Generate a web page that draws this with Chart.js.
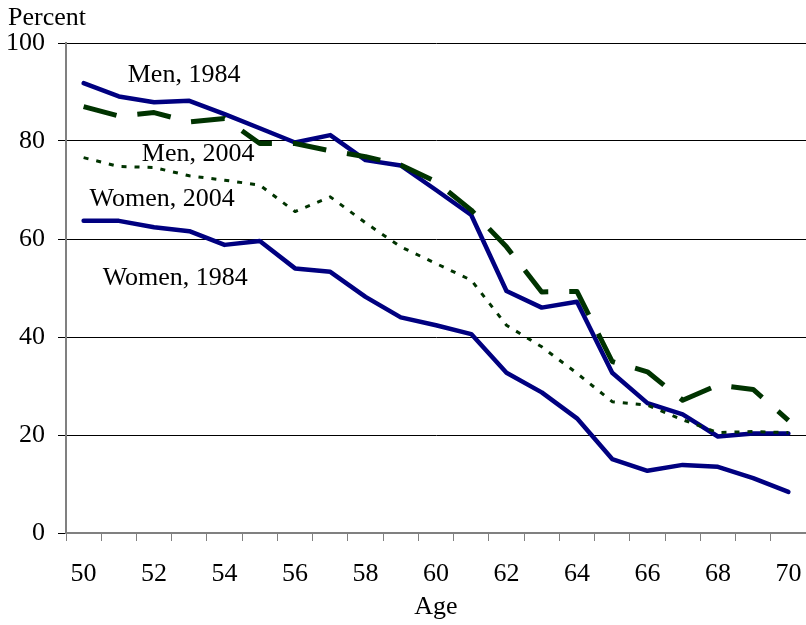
<!DOCTYPE html>
<html>
<head>
<meta charset="utf-8">
<script src="https://cdn.jsdelivr.net/npm/chart.js@4/dist/chart.umd.min.js"></script>
<style>
  html, body { margin: 0; padding: 0; background: #ffffff; }
  #wrap { width: 806px; height: 625px; position: relative; }
</style>
</head>
<body>
<div id="wrap"><canvas id="c" width="806" height="625"></canvas></div>
<script>
// ---- Data ----
const ages = ['50','51','52','53','54','55','56','57','58','59','60','61','62','63','64','65','66','67','68','69','70'];
const men1984   = [91.8, 89.1, 87.9, 88.2, 85.5, 82.6, 79.7, 81.2, 76.1, 75.0, 70.0, 64.9, 49.4, 46.0, 47.2, 32.7, 26.5, 24.2, 19.7, 20.3, 20.3];
const women1984 = [63.7, 63.7, 62.4, 61.6, 58.8, 59.6, 54.0, 53.3, 48.2, 44.0, 42.4, 40.6, 32.7, 28.7, 23.4, 15.1, 12.7, 13.9, 13.5, 11.2, 8.4];
const men2004   = [87.0, 85.1, 85.8, 83.9, 84.6, 79.5, 79.5, 78.0, 76.8, 75.1, 71.7, 65.9, 58.4, 49.2, 49.3, 35.0, 32.9, 27.1, 30.2, 29.3, 23.0];
const women2004 = [76.6, 74.8, 74.6, 72.9, 72.0, 71.0, 65.6, 68.6, 63.3, 58.4, 55.0, 51.6, 42.4, 38.0, 32.6, 26.8, 26.1, 23.1, 20.5, 20.7, 20.5];
const yTicks = [0, 20, 40, 60, 80, 100];
const seriesLabels = ['Men, 1984', 'Men, 2004', 'Women, 2004', 'Women, 1984'];
// label anchor points in data coordinates (category index, value)
const labelAnchors = [[2.85, 93.5], [3.25, 77.3], [2.23, 68.2], [2.6, 52.0]];

const FONT = "'Liberation Serif', 'Times New Roman', serif";
const NAVY = '#000080';
const GREEN = '#003300';

const textPlugin = {
  id: 'texts',
  afterDatasetsDraw(chart) {
    const ctx = chart.ctx;
    const xs = chart.scales.x, ys = chart.scales.y;
    ctx.save();
    ctx.fillStyle = '#000';
    ctx.font = '26px ' + FONT;
    ctx.textAlign = 'center';
    ctx.textBaseline = 'middle';
    seriesLabels.forEach((t, i) => {
      const a = labelAnchors[i];
      ctx.fillText(t, xs.getPixelForValue(a[0]), ys.getPixelForValue(a[1]));
    });
    ctx.textAlign = 'left';
    ctx.fillText('Percent', 8, chart.chartArea.top - 25);
    ctx.restore();
  }
};

new Chart(document.getElementById('c'), {
  type: 'line',
  data: {
    labels: ages,
    datasets: [
      { label: 'Men, 2004', data: men2004, borderColor: GREEN, borderWidth: 5, borderDash: [34, 21], borderCapStyle: 'butt', borderJoinStyle: 'round' },
      { label: 'Women, 2004', data: women2004, borderColor: GREEN, borderWidth: 3, borderDash: [5, 8], borderCapStyle: 'butt', borderJoinStyle: 'round' },
      { label: 'Men, 1984', data: men1984, borderColor: NAVY, borderWidth: 4.5, borderJoinStyle: 'round', borderCapStyle: 'round' },
      { label: 'Women, 1984', data: women1984, borderColor: NAVY, borderWidth: 4.5, borderJoinStyle: 'round', borderCapStyle: 'round' }
    ]
  },
  options: {
    responsive: false,
    animation: false,
    devicePixelRatio: 1,
    layout: { padding: { top: 43, left: 0, right: 0, bottom: 0 } },
    elements: { point: { radius: 0, hoverRadius: 0 }, line: { tension: 0, fill: false } },
    plugins: { legend: { display: false }, tooltip: { enabled: false } },
    scales: {
      x: {
        type: 'category',
        offset: true,
        grid: { display: true, drawOnChartArea: false, drawTicks: true, tickLength: 8, color: '#808080', lineWidth: 1, offset: true },
        border: { display: true, color: '#808080', width: 2 },
        ticks: {
          autoSkip: false, maxRotation: 0, minRotation: 0, padding: 18,
          color: '#000', font: { family: FONT, size: 26 },
          callback: function(v, i) { return (i % 2 === 0) ? ages[i] : ''; }
        },
        title: { display: true, text: 'Age', color: '#000', font: { family: FONT, size: 26 }, padding: { top: 0, bottom: 2 } },
        afterFit(s) { s.height = 92; s.paddingLeft = 0; s.paddingRight = 0; }
      },
      y: {
        min: 0, max: 100,
        afterBuildTicks(s) { s.ticks = yTicks.map(v => ({ value: v })); },
        grid: { display: true, drawOnChartArea: true, drawTicks: true, tickLength: 8, color: '#000', lineWidth: 1 },
        border: { display: true, color: '#808080', width: 2 },
        ticks: { padding: 13, color: '#000', font: { family: FONT, size: 26 } },
        afterFit(s) { s.width = 66; s.paddingTop = 0; s.paddingBottom = 0; }
      }
    }
  },
  plugins: [textPlugin]
});
</script>
</body>
</html>
